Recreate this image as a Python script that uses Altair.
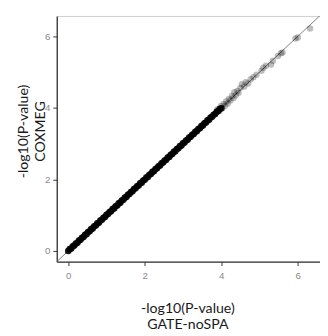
import altair as alt
import pandas as pd

# dense part of the cloud (reads solid black)
dense_x = [0.00, 0.04, 0.08, 0.12, 0.16, 0.20, 0.24, 0.28, 0.32, 0.36, 0.40, 0.44, 0.48,
           0.52, 0.56, 0.60, 0.64, 0.68, 0.72, 0.76, 0.80, 0.84, 0.88, 0.92, 0.96, 1.00,
           1.04, 1.08, 1.12, 1.16, 1.20, 1.24, 1.28, 1.32, 1.36, 1.40, 1.44, 1.48, 1.52,
           1.56, 1.60, 1.64, 1.68, 1.72, 1.76, 1.80, 1.84, 1.88, 1.92, 1.96, 2.00, 2.04,
           2.08, 2.12, 2.16, 2.20, 2.24, 2.28, 2.32, 2.36, 2.40, 2.44, 2.48, 2.52, 2.56,
           2.60, 2.64, 2.68, 2.72, 2.76, 2.80, 2.84, 2.88, 2.92, 2.96, 3.00, 3.04, 3.08,
           3.12, 3.16, 3.20, 3.24, 3.28, 3.32, 3.36, 3.40, 3.44, 3.48, 3.52, 3.56, 3.60,
           3.64, 3.68, 3.72, 3.76, 3.80, 3.84, 3.88, 3.92, 3.96, 4.00]
dense_y = [0.00, 0.05, 0.07, 0.13, 0.15, 0.21, 0.23, 0.29, 0.31, 0.37, 0.39, 0.45, 0.47,
           0.53, 0.55, 0.61, 0.63, 0.69, 0.71, 0.77, 0.79, 0.85, 0.87, 0.93, 0.95, 1.01,
           1.03, 1.09, 1.11, 1.17, 1.19, 1.25, 1.27, 1.33, 1.35, 1.41, 1.43, 1.49, 1.51,
           1.57, 1.59, 1.65, 1.67, 1.73, 1.75, 1.81, 1.83, 1.89, 1.91, 1.97, 1.99, 2.05,
           2.07, 2.13, 2.15, 2.21, 2.23, 2.29, 2.31, 2.37, 2.39, 2.45, 2.47, 2.53, 2.55,
           2.61, 2.63, 2.69, 2.71, 2.77, 2.79, 2.85, 2.87, 2.93, 2.95, 3.01, 3.03, 3.09,
           3.11, 3.17, 3.19, 3.25, 3.27, 3.33, 3.35, 3.41, 3.43, 3.49, 3.51, 3.57, 3.59,
           3.65, 3.67, 3.73, 3.75, 3.81, 3.83, 3.89, 3.91, 3.97, 3.99]

# sparse upper tail (translucent grey points)
tail_x = [3.90, 3.95, 3.99, 4.03, 4.06, 4.10, 4.13, 4.17, 4.20, 4.24, 4.28, 4.32, 4.34,
          4.38, 4.42, 4.45, 4.50, 4.54, 4.60, 4.64, 4.70, 4.77, 4.84, 4.92, 5.05, 5.10,
          5.17, 5.30, 5.35, 5.48, 5.56, 5.60, 5.94, 6.00, 6.32]
tail_y = [3.96, 3.91, 4.05, 3.99, 4.11, 4.06, 4.18, 4.12, 4.25, 4.21, 4.33, 4.28, 4.44,
          4.35, 4.47, 4.42, 4.56, 4.66, 4.60, 4.72, 4.68, 4.80, 4.86, 4.93, 5.04, 5.12,
          5.18, 5.21, 5.32, 5.45, 5.53, 5.55, 5.94, 5.97, 6.22]

diag = [-0.3, 6.58]
x_ticks = [0, 2, 4, 6]
y_ticks = [0, 2, 4, 6]
x_title = ["-log10(P-value)", "GATE-noSPA"]
y_title = ["-log10(P-value)", "COXMEG"]

xs = alt.Scale(domain=[-0.3, 6.58], nice=False, zero=False)
ys = alt.Scale(domain=[-0.3, 6.57], nice=False, zero=False)

diag_df = pd.DataFrame({"x": diag, "y": diag})
dense_df = pd.DataFrame({"x": dense_x, "y": dense_y})
tail_df = pd.DataFrame({"x": tail_x, "y": tail_y})

line = alt.Chart(diag_df).mark_line(color="#6e6e6e", strokeWidth=0.9, clip=True).encode(
    x=alt.X("x:Q", scale=xs,
            axis=alt.Axis(values=x_ticks, title=x_title, titleX=134, titleY=48,
                          titleBaseline="middle", titleAlign="center",
                          labelPadding=5)),
    y=alt.Y("y:Q", scale=ys,
            axis=alt.Axis(values=y_ticks, title=y_title, titleX=-34, titleY=118,
                          titleAngle=-90, titleBaseline="middle", titleAlign="center",
                          labelPadding=3)),
)

dense = alt.Chart(dense_df).mark_circle(size=46, color="black", opacity=0.9).encode(
    x=alt.X("x:Q", scale=xs), y=alt.Y("y:Q", scale=ys)
)
tail = alt.Chart(tail_df).mark_circle(size=44, color="black", opacity=0.26).encode(
    x=alt.X("x:Q", scale=xs), y=alt.Y("y:Q", scale=ys)
)

chart = alt.layer(line, dense, tail).properties(
    width=270, height=252,
    autosize=alt.AutoSizeParams(type="none"),
    padding={"left": 50, "top": 4, "right": 0, "bottom": 70},
).configure_view(
    stroke="#cfcfcf", strokeWidth=1
).configure_axis(
    grid=False,
    domainColor="#333333", domainWidth=1.3,
    tickColor="#333333", tickSize=4, tickWidth=1,
    labelColor="#8a8a8a", labelFont="Liberation Sans", labelFontSize=10,
    titleFont="Lato", titleFontSize=14.5, titleFontWeight="normal",
    titleColor="#1a1a1a", titleLineHeight=17,
)

chart.save("out.html", embed_options={"renderer": "svg", "actions": False})
